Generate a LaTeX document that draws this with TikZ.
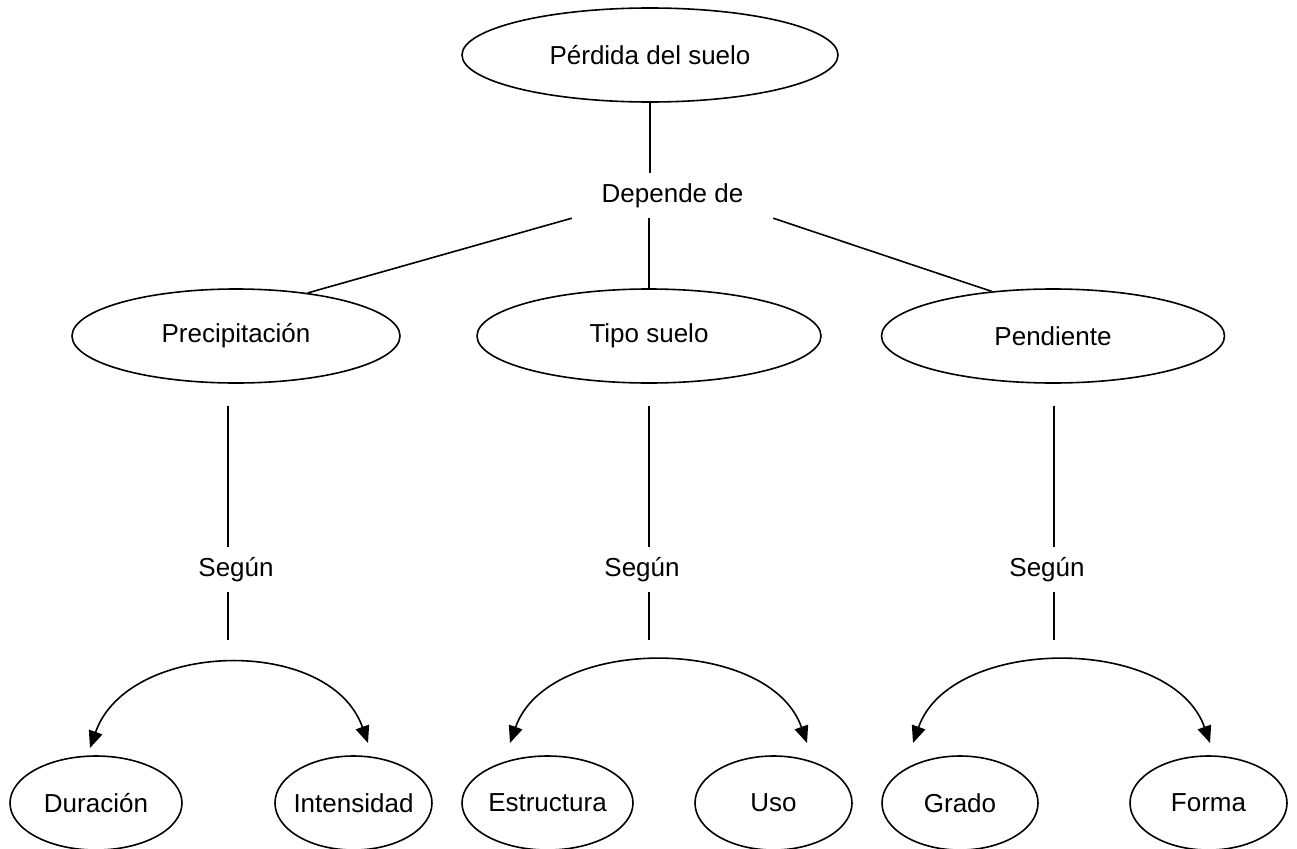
\documentclass[tikz,border=0pt]{standalone}
\usepackage{fontspec}
\setmainfont{Liberation Sans}
\usetikzlibrary{shapes.geometric,arrows.meta}
\begin{document}
\begin{tikzpicture}[x=1pt,y=-1pt,
    every node/.style={font=\fontsize{26}{31}\selectfont},
    elip/.style={draw,ellipse,line width=1.6pt,inner sep=0pt,minimum height=94pt},
    txt/.style={inner sep=0pt,minimum height=45pt},
    linea/.style={line width=1.6pt},
    flecha/.style={line width=1.6pt,{Triangle[length=17pt,width=14pt]}-{Triangle[length=17pt,width=14pt]}}]
\useasboundingbox (0,0) rectangle (1297,848);
\node[elip,minimum width=376pt] (perdida) at (650,55) {Pérdida del suelo};
\node[txt,minimum width=201pt] (depende) at (672.5,195.5) {Depende de};
\node[elip,minimum width=328pt] (precip) at (236,336) {Precipitación};
\node[elip,minimum width=344pt] (tipo) at (649,336) {Tipo suelo};
\node[elip,minimum width=343pt] (pend) at (1053,336) {Pendiente};
\node[txt] (segun1) at (236,569.5) {Según};
\node[txt] (segun2) at (642,569.5) {Según};
\node[txt] (segun3) at (1047,569.5) {Según};
\node[elip,minimum width=172pt] (duracion) at (96,803) {Duración};
\node[elip,minimum width=157pt,inner xsep=-10pt] (intens) at (353.5,803) {Intensidad};
\node[elip,minimum width=171pt,inner xsep=-10pt] (estruc) at (547.5,803) {Estructura};
\node[elip,minimum width=157pt] (uso) at (773.5,803) {Uso};
\node[elip,minimum width=156pt] (grado) at (960,803) {Grado};
\node[elip,minimum width=157pt] (forma) at (1208.5,803) {Forma};
\coordinate (b1) at (228,640);
\coordinate (b2) at (649,640);
\coordinate (b3) at (1054,640);
\coordinate (l1) at (90,748);
\coordinate (r1) at (368,743);
\coordinate (l2) at (510,743);
\coordinate (r2) at (807,743);
\coordinate (l3) at (913,743);
\coordinate (r3) at (1210,743);
\draw[linea] (perdida.south) -- (perdida.south |- depende.north);
\draw[linea] (depende.south -| tipo.north) -- (tipo.north);
\draw[linea] (depende.south west) -- (precip.31);
\draw[linea] (depende.south east) -- (pend.144);
\draw[linea,shorten <=22pt] (precip.south -| b1) -- (b1 |- segun1.north);
\draw[linea] (segun1.south -| b1) -- (b1);
\draw[linea,shorten <=22pt] (tipo.south -| b2) -- (b2 |- segun2.north);
\draw[linea] (segun2.south -| b2) -- (b2);
\draw[linea,shorten <=22pt] (pend.south -| b3) -- (b3 |- segun3.north);
\draw[linea] (segun3.south -| b3) -- (b3);
\draw[flecha] (l1) .. controls +(38,-108) and +(-38,-108) .. (r1);
\draw[flecha] (l2) .. controls +(38,-108) and +(-38,-108) .. (r2);
\draw[flecha] (l3) .. controls +(38,-108) and +(-38,-108) .. (r3);
\end{tikzpicture}
\end{document}
